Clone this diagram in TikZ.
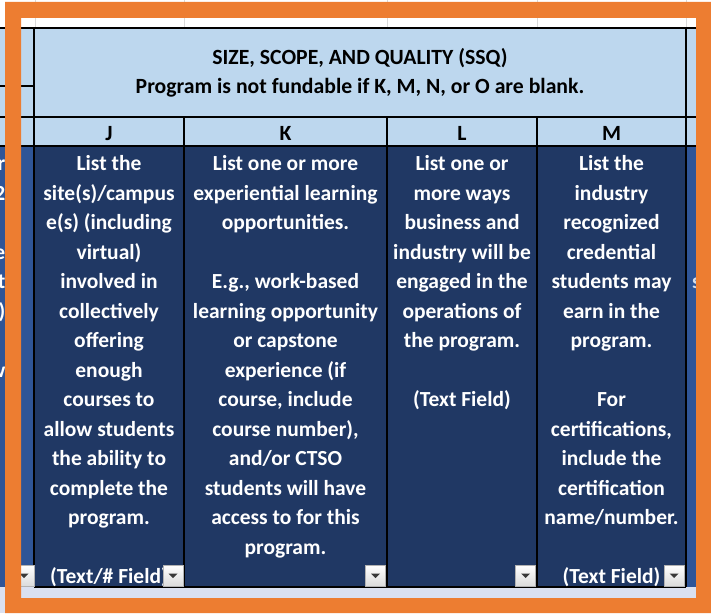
\documentclass[tikz,border=0pt]{standalone}
\usepackage{fontspec}
\setmainfont{Carlito}
\definecolor{navy}{HTML}{203864}
\definecolor{hdrblue}{HTML}{BDD7EE}
\definecolor{midblue}{HTML}{2F5597}
\definecolor{frameorange}{HTML}{ED7D31}
\definecolor{lavender}{HTML}{DAE0F0}
\definecolor{gridgray}{HTML}{D9D9D9}
\newcommand\bodyfont{\fontsize{21.5}{25}\selectfont\bfseries}
\newcommand\hdrfont{\fontsize{21.7}{25}\selectfont\bfseries}
\begin{document}
\begin{tikzpicture}[x=1pt,y=-1pt,
  body/.style={font=\bodyfont, text=white, anchor=base, inner sep=0pt},
  hdr/.style={font=\hdrfont, text=black, anchor=base, inner sep=0pt},
  grid/.style={draw=black, line width=1.3pt},
  ddbtn/.style={draw=gray!60, line width=0.6pt, minimum width=20pt, minimum height=21pt,
    inner sep=0pt, top color=white, bottom color=gray!28,
    path picture={\fill[gray!45!black] ([xshift=-4.5pt,yshift=2pt]path picture bounding box.center)
      -- ++(9pt,0pt) -- ++(-4.5pt,-4.5pt) -- cycle;}}
]
\useasboundingbox (0,0) rectangle (711,615);
\fill[white] (0,0) rectangle (711,615);
% top gridlines
\foreach \gx in {35,184,387,537,686}
  \draw[gridgray, line width=0.8pt] (\gx,0) -- (\gx,28);
% backgrounds
\fill[hdrblue] (0,28) rectangle (711,146);
\fill[navy] (34,146) rectangle (686,587);
\fill[midblue] (0,146) rectangle (34,587);
\fill[midblue] (686,146) rectangle (711,587);
\fill[lavender] (0,587) rectangle (711,613);
% clipped fragments of neighbouring columns
\begin{scope}
  \clip (0,146) rectangle (5,587);
  \foreach \t/\i in {r/1,2/2,e/4,t/5,)/6,w/8}
    \node[body, anchor=base east] (lf\i) at (5.5,{170.5+29.5*(\i-1)}) {\t};
\end{scope}
\begin{scope}
  \clip (686,146) rectangle (696,587);
  \node[body, anchor=base west, text=white!80!midblue] (rf) at (692,288.5) {s};
\end{scope}
% grid lines
\draw[grid] (0,28) -- (711,28);
\draw[grid] (0,86) -- (34,86);
\draw[grid] (0,117) -- (711,117);
\draw[grid] (0,146) -- (711,146);
\draw[grid] (34,587) -- (686,587);
\draw[grid] (34,28) -- (34,587);
\draw[grid] (686,28) -- (686,587);
\foreach \gx in {184,387,537}
  \draw[grid] (\gx,117) -- (\gx,587);
% header texts
\node[hdr] (ssq1) at (360,65) {SIZE, SCOPE, AND QUALITY (SSQ)};
\node[hdr] (ssq2) at (360,93.3) {Program is not fundable if K, M, N, or O are blank.};
\node[hdr] (colJ) at (109,140.5) {J};
\node[hdr] (colK) at (285.5,140.5) {K};
\node[hdr] (colL) at (462,140.5) {L};
\node[hdr] (colM) at (611.5,140.5) {M};
% column texts
\foreach \t [count=\i] in {{List the},{site(s)/campus},{e(s) (including},{virtual)},{involved in},{collectively},{offering},{enough},{courses to},{allow students},{the ability to},{complete the},{program.},{},{(Text/\# Field)}}
  \node[body] (J\i) at (109,{170.5+29.5*(\i-1)}) {\t};
\foreach \t [count=\i] in {{List one or more},{experiential learning},{opportunities.},{},{E.g., work-based},{learning opportunity},{or capstone},{experience (if},{course, include},{course number),},{and/or CTSO},{students will have},{access to for this},{program.}}
  \node[body] (K\i) at (285.5,{170.5+29.5*(\i-1)}) {\t};
\foreach \t [count=\i] in {{List one or},{more ways},{business and},{industry will be},{engaged in the},{operations of},{the program.},{},{(Text Field)}}
  \node[body] (L\i) at (462,{170.5+29.5*(\i-1)}) {\t};
\foreach \t [count=\i] in {{List the},{industry},{recognized},{credential},{students may},{earn in the},{program.},{},{For},{certifications,},{include the},{certification},{name/number.},{},{(Text Field)}}
  \node[body] (M\i) at (611.5,{170.5+29.5*(\i-1)}) {\t};
% dropdown buttons
\node[ddbtn] (b0) at (24,575.5) {};
\node[ddbtn] (bJ) at (173,575.5) {};
\node[ddbtn] (bK) at (375.5,575.5) {};
\node[ddbtn] (bL) at (525.5,575.5) {};
\node[ddbtn] (bM) at (674,575.5) {};
% orange frame
\fill[frameorange, even odd rule] (5,2) rectangle (711,613) (21,18) rectangle (696,598);
\end{tikzpicture}
\end{document}
